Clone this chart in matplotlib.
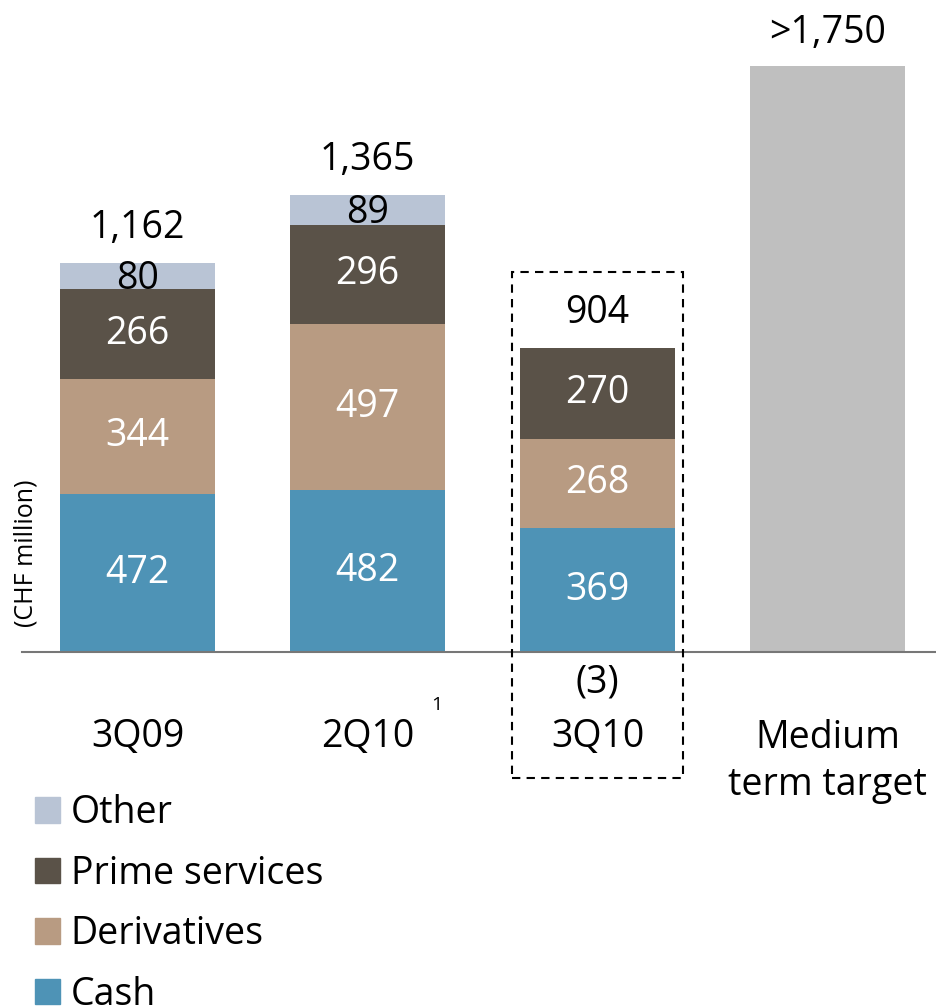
import numpy as np
import matplotlib.pyplot as plt
from matplotlib.patches import Rectangle, Patch

plt.rcParams['font.family'] = ['Open Sans', 'DejaVu Sans']

# data (CHF million)
categories = ["3Q09", "2Q10", "3Q10", "Medium\nterm target"]
cash = [472, 482, 369]
derivatives = [344, 497, 268]
prime = [266, 296, 270]
other = [80, 89, -3]
totals = ["1,162", "1,365", "904"]
target = 1750
target_label = ">1,750"

c_cash = "#4e93b6"
c_deriv = "#b89b82"
c_prime = "#5a5248"
c_other = "#b9c4d5"
c_target = "#bfbfbf"

fig = plt.figure(figsize=(9.37, 10.08), dpi=100)
ax = fig.add_axes([0, 0, 1, 1])
ax.set_xlim(-0.598, 3.476)
ax.set_ylim(-1063, 1946)
ax.axis("off")

x = np.arange(3)
w = 0.674
fs = 27

b1 = np.array(cash)
b2 = b1 + np.array(derivatives)
b3 = b2 + np.array(prime)

ax.bar(x, cash, w, color=c_cash, zorder=2)
ax.bar(x, derivatives, w, bottom=b1, color=c_deriv, zorder=2)
ax.bar(x, prime, w, bottom=b2, color=c_prime, zorder=2)
# other: negative value for 3Q10 starts at baseline
other_bottom = [b3[i] if other[i] > 0 else 0 for i in range(3)]
ax.bar(x, other, w, bottom=other_bottom, color=c_other, zorder=2)
ax.bar(3, target, w, color=c_target, zorder=2)

# segment labels
for i in range(3):
    ax.text(x[i], cash[i] / 2, str(cash[i]), ha="center", va="center", color="white", fontsize=fs, zorder=3)
    ax.text(x[i], b1[i] + derivatives[i] / 2, str(derivatives[i]), ha="center", va="center", color="white", fontsize=fs, zorder=3)
    ax.text(x[i], b2[i] + prime[i] / 2, str(prime[i]), ha="center", va="center", color="white", fontsize=fs, zorder=3)
    if other[i] > 0:
        ax.text(x[i], b3[i] + other[i] / 2 - 8, str(other[i]), ha="center", va="center", color="black", fontsize=fs, zorder=3)
        top = b3[i] + other[i]
    else:
        ax.text(x[i], -92, "(%d)" % abs(other[i]), ha="center", va="center", color="black", fontsize=fs, zorder=3)
        top = b3[i]
    ax.text(x[i], top + 104, totals[i], ha="center", va="center", color="black", fontsize=fs, zorder=3)
ax.text(3, target + 96, target_label, ha="center", va="center", color="black", fontsize=fs, zorder=3)

# baseline
ax.axhline(0, xmin=22 / 937, xmax=1, color="#777777", lw=1.5, zorder=4)

# category labels
for i, c in enumerate(categories):
    if "\n" in c:
        ax.text(i, -328, c, ha="center", va="center", fontsize=fs, linespacing=1.3)
    else:
        ax.text(i, -254, c, ha="center", va="center", fontsize=fs)
ax.text(1.3, -160, "1", ha="center", va="center", fontsize=14)

# dashed highlight box round 3Q10
ax.add_patch(Rectangle((1.628, -376), 0.744, 1510, fill=False, ls=(0, (4, 3)),
                       lw=1.5, ec="black", zorder=5))

ax.text(0.028, 0.451, "(CHF million)", transform=ax.transAxes, rotation=90,
        ha="center", va="center", fontsize=18)

handles = [Patch(color=c_other, label="Other"),
           Patch(color=c_prime, label="Prime services"),
           Patch(color=c_deriv, label="Derivatives"),
           Patch(color=c_cash, label="Cash")]
ax.legend(handles=handles, loc="upper left", bbox_to_anchor=(0.037, 0.212),
          frameon=False, fontsize=fs, handlelength=0.67, handleheight=0.67,
          handletextpad=0.29, labelspacing=0.6, borderpad=0, borderaxespad=0)

fig.savefig("out.png", dpi=100)
